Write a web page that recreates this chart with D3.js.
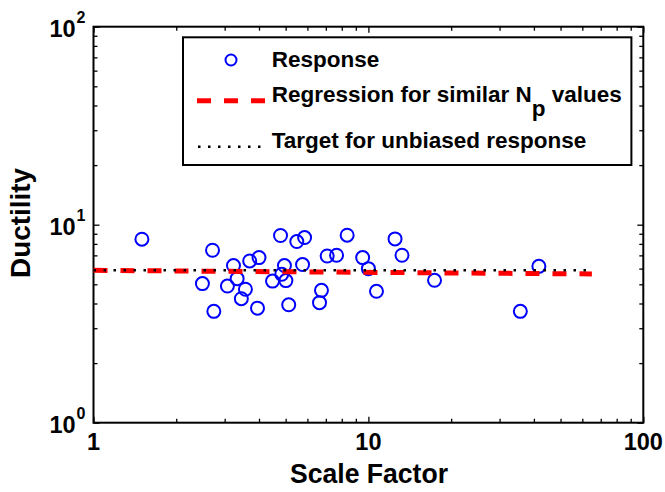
<!DOCTYPE html>
<html>
<head>
<meta charset="utf-8">
<script src="https://cdn.jsdelivr.net/npm/d3@7"></script>
<style>
  body { margin: 0; background: #fff; }
  svg { display: block; font-family: "Liberation Sans", Arial, Helvetica, sans-serif; }
</style>
</head>
<body>
<svg id="chart" width="665" height="492"></svg>
<script>
// Ground-motion scale factor vs. ductility response
const scaleFactor = [1.50, 2.71, 2.49, 2.74, 3.07, 3.23, 3.33, 3.57, 3.45, 3.70,
                     4.00, 3.95, 4.48, 4.79, 4.95, 4.84, 5.01, 5.13, 5.49, 5.86,
                     5.76, 6.75, 6.64, 7.08, 7.66, 8.37, 9.53, 10.0, 10.7, 12.5,
                     13.25, 17.4, 35.7, 41.7];
const ductility   = [8.45, 7.43, 5.04, 3.65, 4.90, 6.22, 5.34, 4.72, 4.23, 6.56,
                     6.82, 3.79, 5.19, 8.82, 6.22, 5.62, 5.22, 3.94, 8.22, 8.61,
                     6.29, 4.66, 4.04, 6.95, 7.01, 8.85, 6.82, 6.00, 4.61, 8.48,
                     7.01, 5.24, 3.65, 6.16];

// Fitted trend for records with similar Np, and the unbiased target level
const regressionX = [1, 65];
const regressionY = [5.88, 5.64];
const targetX = [1, 65];
const targetY = [5.88, 5.88];

// Axis ticks
const xMajorTicks = [1, 10, 100];
const xTickLabels = ["1", "10", "100"];
const yMajorTicks = [1, 10, 100];
const yTickExponents = ["0", "1", "2"];

const legendLabels = ["Response", "Regression for similar N", "Target for unbiased response"];

const svg = d3.select("#chart");
const plot = { left: 93.5, right: 643.3, top: 26.7, bottom: 422.7 };

const x = d3.scaleLog().domain([1, 100]).range([plot.left, plot.right]);
const y = d3.scaleLog().domain([1, 100]).range([plot.bottom, plot.top]);

const minorTicks = d3.range(0, 2).flatMap(e => d3.range(2, 10).map(m => m * Math.pow(10, e)));

const MAJOR = 6, MINOR = 4;

function tickAxis(axisFn, scale, values, size, transform) {
  const g = svg.append("g").attr("transform", transform)
    .call(axisFn(scale).tickValues(values).tickSize(size).tickSizeOuter(0).tickFormat(""));
  g.select(".domain").remove();
  g.selectAll(".tick line").attr("stroke", "#000").attr("stroke-width", 1.3);
  return g;
}

// Inward ticks on all four sides
[[MAJOR, xMajorTicks], [MINOR, minorTicks]].forEach(([s, v]) => {
  tickAxis(d3.axisBottom, x, v, -s, `translate(0,${plot.bottom})`);
  tickAxis(d3.axisTop, x, v, -s, `translate(0,${plot.top})`);
});
[[MAJOR, yMajorTicks], [MINOR, minorTicks]].forEach(([s, v]) => {
  tickAxis(d3.axisLeft, y, v, -s, `translate(${plot.left},0)`);
  tickAxis(d3.axisRight, y, v, -s, `translate(${plot.right},0)`);
});

// Frame
svg.append("rect")
  .attr("x", plot.left).attr("y", plot.top)
  .attr("width", plot.right - plot.left).attr("height", plot.bottom - plot.top)
  .attr("fill", "none").attr("stroke", "#000").attr("stroke-width", 2);

// X tick labels
svg.append("g").selectAll("text").data(xMajorTicks).join("text")
  .attr("x", d => x(d)).attr("y", plot.bottom + 27.5)
  .attr("text-anchor", "middle").attr("font-size", 23.5).attr("font-weight", "bold")
  .text((d, i) => xTickLabels[i]);

// Y tick labels as powers of ten
const yLab = svg.append("g").selectAll("text").data(yMajorTicks).join("text")
  .attr("x", plot.left - 8).attr("y", d => y(d) + 10.5)
  .attr("text-anchor", "end").attr("font-size", 23.5).attr("font-weight", "bold");
yLab.append("tspan").text("10");
yLab.append("tspan").attr("font-size", 16).attr("dy", -14).attr("dx", 1)
  .text((d, i) => yTickExponents[i]);

// Axis titles
svg.append("text")
  .attr("x", 369).attr("y", 483.3).attr("text-anchor", "middle")
  .attr("font-size", 28).attr("font-weight", "bold")
  .attr("textLength", 158).attr("lengthAdjust", "spacingAndGlyphs")
  .text("Scale Factor");
svg.append("text")
  .attr("transform", "translate(30,223) rotate(-90)").attr("text-anchor", "middle")
  .attr("font-size", 27).attr("font-weight", "bold")
  .attr("textLength", 110).attr("lengthAdjust", "spacingAndGlyphs")
  .text("Ductility");

// Response markers
svg.append("g").selectAll("circle").data(scaleFactor).join("circle")
  .attr("cx", d => x(d)).attr("cy", (d, i) => y(ductility[i])).attr("r", 6.5)
  .attr("fill", "none").attr("stroke", "#0000ff").attr("stroke-width", 2);

const line = d3.line().x(d => x(d[0])).y(d => y(d[1]));

svg.append("path")
  .attr("d", line(regressionX.map((v, i) => [v, regressionY[i]])))
  .attr("fill", "none").attr("stroke", "#ff0000").attr("stroke-width", 5)
  .attr("stroke-dasharray", "14,13");

svg.append("path")
  .attr("d", line(targetX.map((v, i) => [v, targetY[i]])))
  .attr("fill", "none").attr("stroke", "#000").attr("stroke-width", 2.5)
  .attr("stroke-dasharray", "2.5,7.5");

// Legend
const lg = svg.append("g");
lg.append("rect").attr("x", 183).attr("y", 37.3).attr("width", 448.4).attr("height", 127.7)
  .attr("fill", "#fff").attr("stroke", "#000").attr("stroke-width", 2);
lg.append("circle").attr("cx", 231).attr("cy", 60).attr("r", 5.5)
  .attr("fill", "none").attr("stroke", "#0000ff").attr("stroke-width", 2);
lg.append("line").attr("x1", 197).attr("x2", 265).attr("y1", 100.7).attr("y2", 100.7)
  .attr("stroke", "#ff0000").attr("stroke-width", 5).attr("stroke-dasharray", "14,13");
lg.append("line").attr("x1", 198).attr("x2", 262).attr("y1", 146.7).attr("y2", 146.7)
  .attr("stroke", "#000").attr("stroke-width", 2.5).attr("stroke-dasharray", "2.5,7.5");

const legendY = [67.3, 102.3, 148.3];
lg.selectAll("text.entry").data(legendLabels).join("text").attr("class", "entry")
  .attr("x", 271.7).attr("y", (d, i) => legendY[i])
  .attr("font-size", 22.5).attr("font-weight", "bold")
  .each(function (d, i) {
    const t = d3.select(this);
    t.append("tspan").text(d);
    if (i === 1) {
      t.append("tspan").attr("dy", 14).text("p");
      t.append("tspan").attr("dy", -14).text(" values");
    }
  });
</script>
</body>
</html>
